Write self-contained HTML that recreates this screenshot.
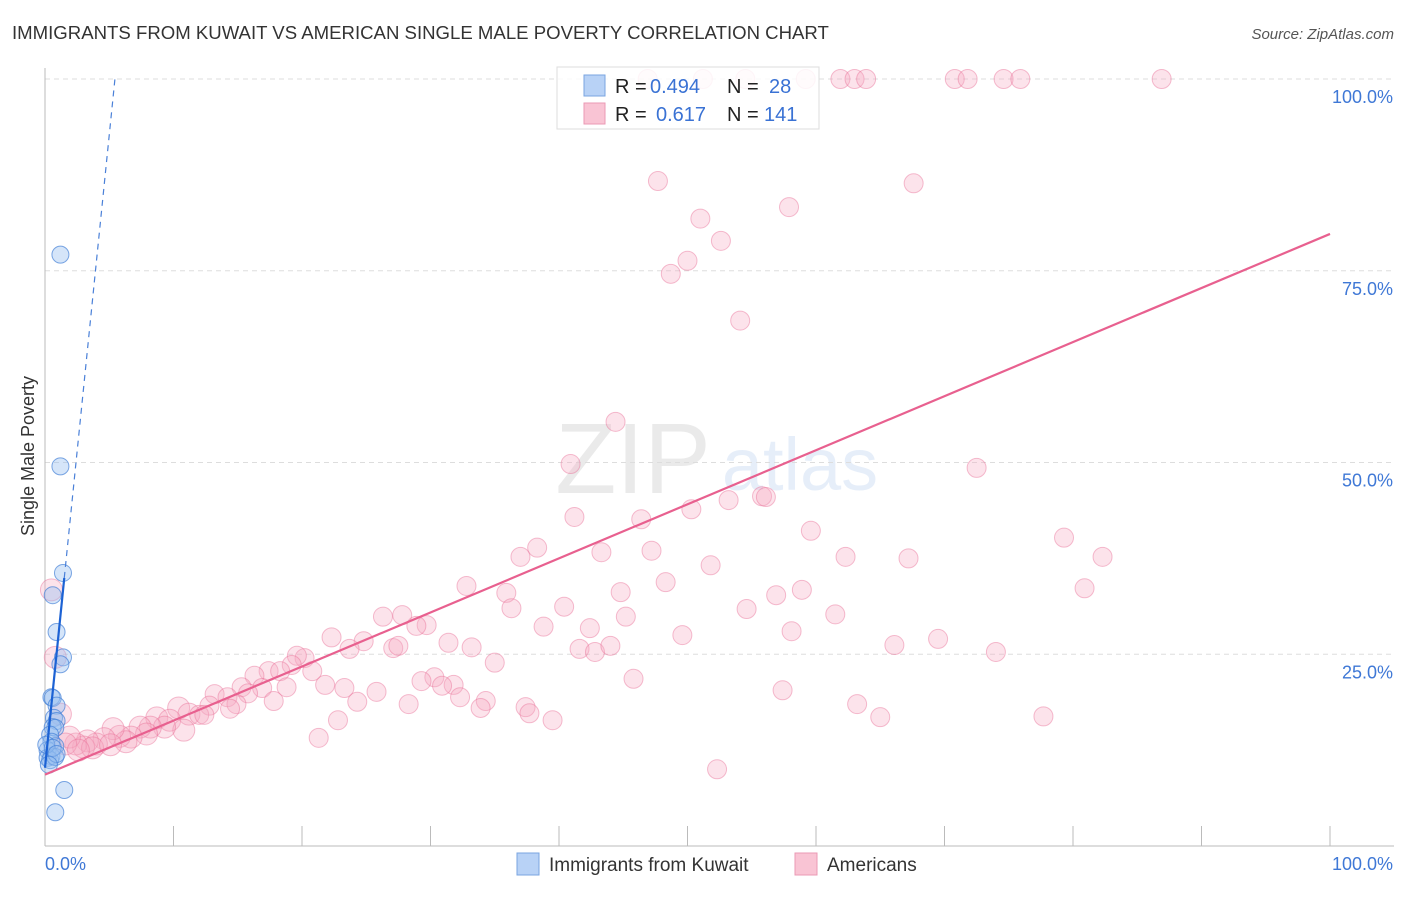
<!DOCTYPE html>
<html><head><meta charset="utf-8"><style>
body{margin:0;background:#fff;font-family:"Liberation Sans",sans-serif;}
svg text{font-family:"Liberation Sans",sans-serif;}
</style></head><body>
<svg id="chart" width="1406" height="892">
<text x="12" y="39" font-size="18.6" fill="#333">IMMIGRANTS FROM KUWAIT VS AMERICAN SINGLE MALE POVERTY CORRELATION CHART</text>
<text x="1394" y="39" font-size="15" fill="#555" font-style="italic" text-anchor="end">Source: ZipAtlas.com</text>
<text x="34" y="456" font-size="18" fill="#333" text-anchor="middle" transform="rotate(-90 34 456)">Single Male Poverty</text>
<g opacity="0.13"><text x="633" y="493" font-size="100" font-family="Liberation Serif" fill="#666" text-anchor="middle">ZIP</text><text x="800" y="490" font-size="74" fill="#4a86d8" text-anchor="middle">atlas</text></g>
<g id="grid"></g><g id="axes"></g><g id="pts"></g><g id="lines"></g>
<g>
<rect x="557" y="67" width="262" height="62" fill="#fff" fill-opacity="0.85" stroke="#ddd"/>
<rect x="584" y="75" width="21" height="21" fill="#b8d2f6" stroke="#7aa4e0"/>
<rect x="584" y="103" width="21" height="21" fill="#f9c4d4" stroke="#eb9ab4"/>
<text x="615" y="93" font-size="20" fill="#222">R = <tspan x="650" fill="#3a72d4">0.494</tspan><tspan x="727">N = </tspan><tspan x="769" fill="#3a72d4">28</tspan></text>
<text x="615" y="121" font-size="20" fill="#222">R = <tspan x="656" fill="#3a72d4">0.617</tspan><tspan x="727">N = </tspan><tspan x="764" fill="#3a72d4">141</tspan></text>
</g>
<g>
<rect x="517" y="853" width="22" height="22" fill="#b8d2f6" stroke="#7aa4e0"/>
<text x="549" y="871" font-size="19" fill="#333">Immigrants from Kuwait</text>
<rect x="795" y="853" width="22" height="22" fill="#f9c4d4" stroke="#eb9ab4"/>
<text x="827" y="871" font-size="19" fill="#333">Americans</text>
</g>
</svg>
<script>
const yTicks=[25,50,75,100];
const yTickLabels=["25.0%","50.0%","75.0%","100.0%"];
const xTickVals=[0,10,20,30,40,50,60,70,80,90,100];
const pinkX=[46.9,51.2,54.5,59.2,61.9,63.0,63.9,70.8,71.8,74.6,75.9,86.9,47.7,67.6,51.0,57.9,52.6,50.0,48.7,54.1,44.4,40.9,72.5,53.2,55.8,56.1,50.3,41.2,46.4,59.6,79.3,38.3,37.0,43.3,47.2,62.3,67.2,82.3,51.8,48.3,32.8,80.9,35.9,44.8,58.9,56.9,36.3,40.4,54.6,61.5,45.2,26.3,27.8,29.7,28.9,38.8,42.4,22.3,58.1,49.6,24.8,31.4,69.5,33.2,23.7,27.1,27.5,41.6,42.8,44.0,66.1,74.0,20.2,19.6,35.0,19.2,20.8,17.4,16.3,18.3,30.3,29.3,31.8,30.9,21.8,23.3,45.8,15.3,16.9,18.8,13.2,14.2,15.8,25.8,32.3,34.3,57.4,17.8,14.9,10.4,12.8,14.4,24.3,28.3,33.9,37.4,63.2,11.2,12.0,12.4,8.7,9.7,65.0,77.7,22.8,37.7,39.5,10.8,9.3,8.2,7.4,7.9,6.7,5.8,6.3,5.3,4.6,4.0,3.3,3.0,2.4,1.9,1.2,0.5,0.8,21.3,52.3,3.7,5.1,1.6,2.6];
const pinkY=[100,100,100,100,100,100,100,100,100,100,100,100,86.7,86.4,81.8,83.3,78.9,76.3,74.6,68.5,55.3,49.8,49.3,45.1,45.6,45.5,43.9,42.9,42.6,41.1,40.2,38.9,37.7,38.3,38.5,37.7,37.5,37.7,36.6,34.4,33.9,33.6,33.0,33.1,33.4,32.7,31.0,31.2,30.9,30.2,29.9,29.9,30.1,28.8,28.7,28.6,28.4,27.2,28.0,27.5,26.7,26.5,27.0,25.9,25.7,25.8,26.1,25.7,25.3,26.1,26.2,25.3,24.5,24.8,23.9,23.6,22.8,22.8,22.2,22.8,22.0,21.5,21.0,20.9,21.0,20.6,21.8,20.7,20.6,20.7,19.8,19.4,19.9,20.1,19.4,18.9,20.3,18.9,18.5,18.0,18.3,17.9,18.8,18.5,18.0,18.1,18.5,17.2,17.1,17.1,16.7,16.4,16.8,16.9,16.4,17.3,16.4,15.1,15.5,15.5,15.5,14.6,14.2,14.3,13.6,15.3,14.0,13.3,13.7,12.9,13.3,14.2,17.2,33.4,24.6,14.1,10.0,12.8,13.2,13.3,12.5];
const blueX=[1.2,1.2,1.4,0.6,0.9,1.4,1.2,0.5,0.6,0.9,0.7,0.9,0.6,0.8,0.4,0.5,0.8,0.2,0.5,0.2,0.4,0.8,0.1,1.5,0.8,0.6,0.9,0.3];
const blueY=[77.1,49.5,35.6,32.7,27.9,24.6,23.7,19.4,19.3,18.3,16.7,16.3,15.5,15.4,14.5,13.6,13.0,12.5,11.7,11.5,11.2,11.6,13.2,7.3,4.4,12.8,12.0,10.6];
const pinkFit=[9.3,79.8]; // intercept, value at x=100
const blueFit=[10.2,16.5]; // intercept, slope
const NS="http://www.w3.org/2000/svg";
const X0=45,X1=1330,Y0=846,Y100=79;
function sx(v){return X0+(X1-X0)*v/100;}
function sy(v){return Y0-(Y0-Y100)*v/100;}
function mk(t,a,p){const e=document.createElementNS(NS,t);for(const k in a)e.setAttribute(k,a[k]);p.appendChild(e);return e;}
const grid=document.getElementById('grid'),axes=document.getElementById('axes'),pts=document.getElementById('pts'),lines=document.getElementById('lines');
yTicks.forEach((v,i)=>{
 const l=mk('line',{x1:X0,x2:1394,y1:sy(v),y2:sy(v),stroke:'#ddd','stroke-dasharray':'5,4'},grid);
 
 
 const t=mk('text',{x:1393,y:sy(v)+24,'font-size':18,fill:'#3f78d6','text-anchor':'end'},grid);
 t.textContent=yTickLabels[i];
 
 
});
let a=mk('line',{x1:X0,x2:X0,y1:68,y2:Y0,stroke:'#bbb'},axes);


a=mk('line',{x1:X0,x2:1394,y1:Y0,y2:Y0,stroke:'#bbb'},axes);


xTickVals.forEach(v=>{const t=mk('line',{x1:sx(v),x2:sx(v),y1:826,y2:Y0,stroke:'#bbb'},axes);
 
 });
let t=mk('text',{x:45,y:870,'font-size':18,fill:'#3f78d6'},axes);t.textContent='0.0%';


t=mk('text',{x:1393,y:870,'font-size':18,fill:'#3f78d6','text-anchor':'end'},axes);t.textContent='100.0%';


pinkX.forEach((x,i)=>{const c=mk('circle',{cx:sx(x),cy:sy(pinkY[i]),r:(x<12?11:9.5),fill:'rgba(247,170,194,0.33)',stroke:'rgba(232,110,150,0.45)','stroke-width':1},pts);
 
 });
blueX.forEach((x,i)=>{const c=mk('circle',{cx:sx(x),cy:sy(blueY[i]),r:8.5,fill:'rgba(150,190,240,0.4)',stroke:'rgba(70,130,215,0.7)','stroke-width':1},pts);
 
 });
let ln=mk('line',{x1:sx(0),y1:sy(pinkFit[0]),x2:sx(100),y2:sy(pinkFit[1]),stroke:'#e8608f','stroke-width':2.2},lines);


const bxEnd=Math.max(...blueX);
ln=mk('line',{x1:sx(0),y1:sy(blueFit[0]),x2:sx(bxEnd),y2:sy(blueFit[0]+blueFit[1]*bxEnd),stroke:'#1c62d4','stroke-width':2.2},lines);


const xTop=(100-blueFit[0])/blueFit[1];
ln=mk('line',{x1:sx(bxEnd),y1:sy(blueFit[0]+blueFit[1]*bxEnd),x2:sx(xTop),y2:sy(100),stroke:'#4a80d8','stroke-width':1.2,'stroke-dasharray':'6,5'},lines);


</script>
</body></html>
